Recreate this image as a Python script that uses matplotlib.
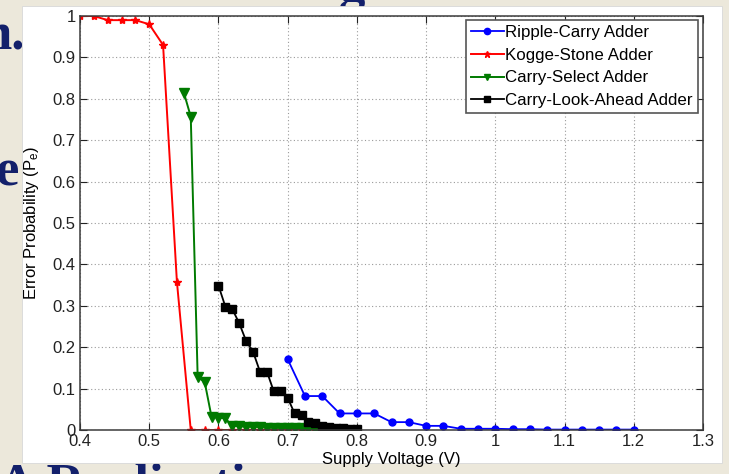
import numpy as np
import matplotlib
matplotlib.use("Agg")
import matplotlib.pyplot as plt
from matplotlib.patches import Rectangle

plt.rcParams['font.family'] = ['Liberation Sans', 'DejaVu Sans']
plt.rcParams['mathtext.default'] = 'regular'

# data
v_rca = [0.700, 0.725, 0.750, 0.775, 0.800, 0.825, 0.850, 0.875, 0.900, 0.925, 0.950,
         0.975, 1.000, 1.025, 1.050, 1.075, 1.100, 1.125, 1.150, 1.175, 1.200]
p_rca = [0.171, 0.082, 0.082, 0.040, 0.040, 0.040, 0.019, 0.019, 0.010, 0.010, 0.003,
         0.003, 0.003, 0.002, 0.002, 0.001, 0.001, 0.001, 0.001, 0.001, 0.001]

v_ksa = [0.40, 0.42, 0.44, 0.46, 0.48, 0.50, 0.52, 0.54, 0.56, 0.58, 0.60,
         0.62, 0.64, 0.66, 0.68, 0.70, 0.72, 0.74, 0.76]
p_ksa = [1.0, 1.0, 0.99, 0.99, 0.99, 0.98, 0.93, 0.358, 0.0, 0.0, 0.0,
         0.0, 0.0, 0.0, 0.0, 0.0, 0.0, 0.0, 0.0]

v_csa = [0.55, 0.56, 0.57, 0.58, 0.59, 0.60, 0.61, 0.62, 0.63, 0.64, 0.65,
         0.66, 0.67, 0.68, 0.69, 0.70, 0.71, 0.72, 0.73, 0.74, 0.75]
p_csa = [0.815, 0.757, 0.127, 0.117, 0.032, 0.030, 0.028, 0.010, 0.009, 0.008, 0.008,
         0.007, 0.006, 0.006, 0.005, 0.005, 0.004, 0.004, 0.003, 0.003, 0.002]

v_cla = [0.60, 0.61, 0.62, 0.63, 0.64, 0.65, 0.66, 0.67, 0.68, 0.69, 0.70,
         0.71, 0.72, 0.73, 0.74, 0.75, 0.76, 0.77, 0.78, 0.79, 0.80]
p_cla = [0.349, 0.298, 0.292, 0.258, 0.215, 0.189, 0.141, 0.141, 0.093, 0.093, 0.078,
         0.040, 0.037, 0.020, 0.017, 0.009, 0.007, 0.005, 0.004, 0.003, 0.002]

xticks = [0.4, 0.5, 0.6, 0.7, 0.8, 0.9, 1.0, 1.1, 1.2, 1.3]
xticklabels = ['0.4', '0.5', '0.6', '0.7', '0.8', '0.9', '1', '1.1', '1.2', '1.3']
yticks = [0.0, 0.1, 0.2, 0.3, 0.4, 0.5, 0.6, 0.7, 0.8, 0.9, 1.0]
yticklabels = ['0', '0.1', '0.2', '0.3', '0.4', '0.5', '0.6', '0.7', '0.8', '0.9', '1']

W, H = 729, 474
beige = '#ECE8DB'
navy = '#13206b'

fig = plt.figure(figsize=(W / 100, H / 100), dpi=100, facecolor=beige)

# bits of the slide text peeking out behind the pasted figure
serif = dict(family='Liberation Serif', weight='bold', color=navy, fontsize=38, zorder=0.5)
fig.text(25 / W, 1 - 50 / H, 'n.', ha='right', va='baseline', **serif)
fig.text(19 / W, 1 - 185 / H, 'e', ha='right', va='baseline', **serif)
fig.text(352 / W, 1 - 1 / H, 'g', ha='center', va='baseline', **serif)
fig.text(-2 / W, 1 - 500 / H, 'A Realization', ha='left', va='baseline', **serif)

# white matlab figure area
rect = Rectangle((22 / W, 11 / H), 700 / W, 457 / H, transform=fig.transFigure,
                 facecolor='white', edgecolor='#d8d8d8', lw=0.6, zorder=1)
fig.patches.append(rect)

ax = fig.add_axes([80 / W, 44 / H, 623 / W, 414 / H])
ax.set_zorder(3)
ax.set_facecolor('white')

ax.plot(v_rca, p_rca, '-o', color='#0000ff', lw=1.3, ms=5, label='Ripple-Carry Adder')
ax.plot(v_ksa, p_ksa, '-*', color='#ff0000', lw=1.4, ms=6, label='Kogge-Stone Adder')
ax.plot(v_csa, p_csa, '-v', color='#007a00', lw=1.4, ms=6.5, label='Carry-Select Adder')
ax.plot(v_cla, p_cla, '-s', color='black', lw=1.3, ms=5.5, label='Carry-Look-Ahead Adder')

ax.set_xlim(0.4, 1.3)
ax.set_ylim(0, 1)
ax.set_xticks(xticks)
ax.set_xticklabels(xticklabels)
ax.set_yticks(yticks)
ax.set_yticklabels(yticklabels)
ax.tick_params(direction='in', top=True, right=True, length=5, width=0.8,
               labelsize=12, colors='#222222', pad=3)
ax.grid(True, linestyle=(0, (1, 2.2)), color='#9a9a9a', lw=0.8)
for s in ax.spines.values():
    s.set_color('#3a3a3a')
    s.set_linewidth(1.1)

ax.set_xlabel('Supply Voltage (V)', fontsize=12)
ax.set_ylabel('Error Probability (P$_e$)', fontsize=12)
ax.xaxis.set_label_coords(0.5, -0.052)
ax.yaxis.set_label_coords(-0.062, 0.5)
ax.xaxis.label.set_va('top')

leg = ax.legend(loc='upper right', bbox_to_anchor=(0.992, 0.99), borderaxespad=0,
                fontsize=12.2, handlelength=1.95, handletextpad=0.1, labelspacing=0.45,
                borderpad=0.3, fancybox=False, framealpha=1, edgecolor='#555555')
leg.get_frame().set_linewidth(1.2)
for h in leg.legend_handles:
    h.set_markersize(4.5)

fig.savefig('out.png', dpi=100, facecolor=beige)
